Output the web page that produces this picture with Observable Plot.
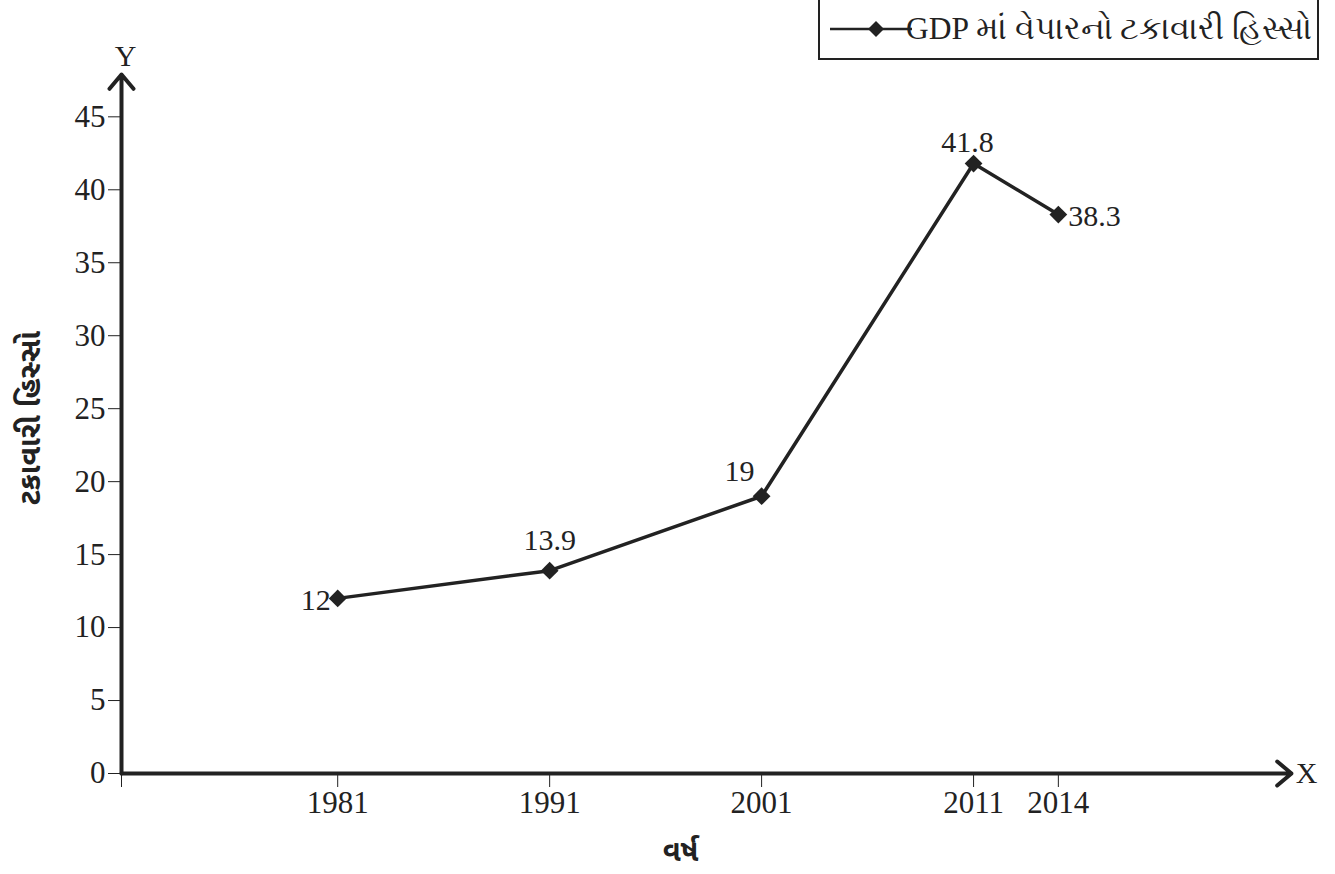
<!DOCTYPE html>
<html>
<head>
<meta charset="utf-8">
<script src="https://cdn.jsdelivr.net/npm/d3@7"></script>
<script src="https://cdn.jsdelivr.net/npm/@observablehq/plot@0.6"></script>
<style>
  body { margin: 0; background: #fff; }
  #wrap { position: relative; width: 1335px; height: 874px; font-family: "Liberation Serif", "Times New Roman", serif; }
  #wrap svg text { font-family: "Liberation Serif", "Times New Roman", serif !important; font-variant: normal !important; }
  #wrap svg g[aria-label="x-axis tick label"] text, #wrap svg g[aria-label="y-axis tick label"] text { font-size: 31px !important; }
  #wrap svg text.guj, #wrap svg g.guj text { font-family: "Noto Sans Gujarati", "Noto Sans", sans-serif !important; }
  #legend { position: absolute; left: 818px; top: -3px; width: 497px; height: 59px; border: 2px solid #222; background: #fff;
            display: flex; align-items: center; font-size: 31.5px; color: #222; white-space: nowrap; }
  #legend svg { margin-left: 10px; margin-right: -6px; }
</style>
</head>
<body>
<div id="wrap"></div>
<script>
// ---- data ----
const years = [1981, 1991, 2001, 2011, 2014];
const shares = [12, 13.9, 19, 41.8, 38.3];
const yTickValues = [0, 5, 10, 15, 20, 25, 30, 35, 40, 45];
const xTickValues = [1981, 1991, 2001, 2011, 2014];
const seriesName = "GDP માં વેપારનો ટકાવારી હિસ્સો";
const xTitle = "વર્ષ";
const yTitle = "ટકાવારી હિસ્સો";

// ---- build ----
const data = years.map((y, i) => ({year: y, value: shares[i]}));
const xStart = 1970.8, xEnd = 2026, yEnd = 47.9;
const ink = "#222";
const serif = "Liberation Serif, Times New Roman, serif";

// The reference spaces the decades evenly and puts 2014 one "slot" of 4 years after 2011
const base = d3.scaleLinear([xStart, xEnd], [121, 1291]);
const xDomain = [xStart, 2011, 2014, xEnd];
const xRange = [base(xStart), base(2011), base(2015), base(xEnd)];

const byIdx = idx => idx.map(i => data[i]);
const lbl = {x: "year", y: "value", text: d => String(d.value), fontSize: 30, fill: ink, fontFamily: serif};

const chart = Plot.plot({
  width: 1335,
  height: 874,
  marginLeft: 121,
  marginRight: 44,
  marginTop: 74,
  marginBottom: 101,
  style: {fontFamily: serif, fontSize: "30px", color: ink, background: "transparent"},
  x: {type: "linear", domain: xDomain, range: xRange, label: null},
  y: {domain: [0, yEnd], label: null},
  marks: [
    Plot.axisY({ticks: yTickValues, tickSize: 13, tickPadding: 3, fontSize: 31, label: null, stroke: ink, fontFamily: serif}),
    Plot.axisX({ticks: [xStart, ...xTickValues], tickFormat: d => d === xStart ? "" : String(d), tickSize: 14, tickPadding: 3, fontSize: 31, label: null, stroke: ink, fontFamily: serif}),
    Plot.arrow([{x1: xStart, y1: 0, x2: xEnd, y2: 0}], {x1: "x1", y1: "y1", x2: "x2", y2: "y2", stroke: ink, strokeWidth: 4, headLength: 7, headAngle: 80, clip: false}),
    Plot.arrow([{x1: xStart, y1: 0, x2: xStart, y2: yEnd}], {x1: "x1", y1: "y1", x2: "x2", y2: "y2", stroke: ink, strokeWidth: 4, headLength: 7, headAngle: 80, clip: false}),
    Plot.text(["Y"], {x: xStart, y: yEnd, dx: 4, dy: -18, fontSize: 30, fill: ink, fontFamily: serif}),
    Plot.text(["X"], {x: xEnd, y: 0, dx: 15, fontSize: 30, fill: ink, fontFamily: serif}),
    Plot.line(data, {x: "year", y: "value", stroke: ink, strokeWidth: 3.5}),
    Plot.dot(data, {x: "year", y: "value", symbol: "diamond2", r: 8, fill: ink, stroke: "none"}),
    // value labels
    Plot.text(byIdx([0]), {...lbl, textAnchor: "end", dx: -7, dy: 2}),
    Plot.text(byIdx([1]), {...lbl, dy: -30}),
    Plot.text(byIdx([2]), {...lbl, dx: -22, dy: -25}),
    Plot.text(byIdx([3]), {...lbl, dx: -6, dy: -21}),
    Plot.text(byIdx([4]), {...lbl, textAnchor: "start", dx: 10, dy: 2}),
    // axis titles
    Plot.text([yTitle], {frameAnchor: "left", textAnchor: "middle", dx: -91, dy: -6, rotate: -90, fontSize: 30, fontWeight: "bold", fill: ink, className: "guj"}),
    Plot.text([xTitle], {frameAnchor: "bottom", textAnchor: "middle", lineAnchor: "middle", dx: -26, dy: 78, fontSize: 29, fontWeight: "bold", fill: ink, className: "guj"})
  ]
});

const wrap = document.getElementById("wrap");
wrap.appendChild(chart);

// legend (overlaid at top right, as in the reference)
const legend = document.createElement("div");
legend.id = "legend";
legend.innerHTML = `<svg width="82" height="22" viewBox="0 0 82 22"><line x1="0" y1="11" x2="82" y2="11" stroke="${ink}" stroke-width="2.5"/><path d="M46 3 L54 11 L46 19 L38 11 Z" fill="${ink}"/></svg><span>${seriesName}</span>`;
wrap.appendChild(legend);
</script>
</body>
</html>
